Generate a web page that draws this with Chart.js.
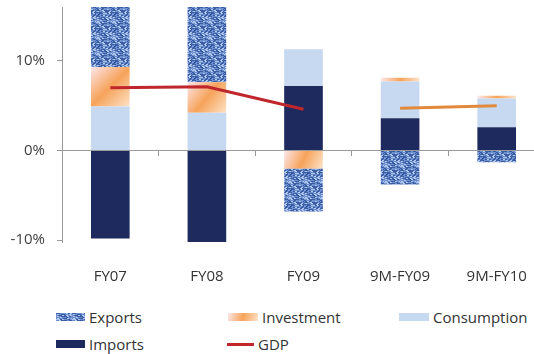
<!DOCTYPE html>
<html>
<head>
<meta charset="utf-8">
<script src="https://cdn.jsdelivr.net/npm/chart.js@4.4.1/dist/chart.umd.min.js"></script>
<style>
  html, body { margin: 0; padding: 0; background: #fff; overflow: hidden; width: 534px; height: 354px; }
  #wrap { position: relative; width: 534px; height: 354px; overflow: hidden; font-family: 'Open Sans', sans-serif; color: #333; }
  #chart { position: absolute; left: 0; top: 0; }
  .key { position: absolute; display: flex; align-items: center; height: 20px; font-size: 15px; white-space: nowrap; }
  .key canvas { display: block; margin-right: 4px; }
</style>
</head>
<body>
<div id="wrap">
  <canvas id="chart" width="545" height="282"></canvas>
  <div id="legend"></div>
</div>
<script>
// Contributions to GDP growth, percentage points
const categories = ['FY07', 'FY08', 'FY09', '9M-FY09', '9M-FY10'];
const imports = [-9.8, -10.2, 7.2, 3.6, 2.6];
const consumption = [4.9, 4.2, 4.1, 4.1, 3.2];
const investment = [4.4, 3.4, -2.0, 0.4, 0.3];
const exportsContrib = [7.5, 9.0, -4.8, -3.8, -1.3];
const gdpAnnual = [7.0, 7.1, 4.6, null, null];
const gdpNineMonth = [null, null, null, 4.7, 5.0];
const yTicks = [-10, 0, 10];

const AXIS = '#9a9a9a';
const FONT = { family: 'Open Sans', size: 15 };
const BAR_SHARE = 0.4;

// ---- Fills ----

// cheap integer hash so the texture is the same on every render
function cellHash(x, y) {
  let h = (x * 374761393 + y * 668265263) | 0;
  h = Math.imul(h ^ (h >>> 13), 1274126177);
  return ((h ^ (h >>> 16)) >>> 0) % 100;
}

// woven blue texture for the exports blocks
function makeTexture() {
  const size = 16;
  const tile = document.createElement('canvas');
  tile.width = tile.height = size;
  const g = tile.getContext('2d');
  g.fillStyle = '#6d8fcf';
  g.fillRect(0, 0, size, size);
  for (let y = 0; y < size; y++) {
    const shift = y % 2;
    for (let x = 0; x < size; x += 2) {
      const h = cellHash(x + shift, y);
      if (h < 34) g.fillStyle = '#3a5ca2';
      else if (h > 74) g.fillStyle = '#b1c8ee';
      else continue;
      g.fillRect((x + shift) % size, y, 2, 1);
    }
  }
  return g.createPattern(tile, 'repeat');
}
const exportsTexture = makeTexture();

function peachGradient(g, x0, y0, x1, y1) {
  const grad = g.createLinearGradient(x0, y0, x1, y1);
  grad.addColorStop(0, '#fde6ea');
  grad.addColorStop(0.5, '#f6a35a');
  grad.addColorStop(1, '#fde3c8');
  return grad;
}

// diagonal peach gradient laid over each investment block
function investmentFill(c) {
  const chart = c.chart;
  const xs = chart.scales.x, ys = chart.scales.y;
  if (c.type !== 'data' || !xs || !ys || !chart.chartArea) return '#f6a35a';
  const i = c.dataIndex;
  const v = investment[i];
  let base = 0;
  for (const arr of [imports, consumption]) {
    if (Math.sign(arr[i]) === Math.sign(v)) base += arr[i];
  }
  const half = xs.width / categories.length * BAR_SHARE / 2;
  const cx = xs.getPixelForValue(i);
  const top = ys.getPixelForValue(Math.max(base, base + v));
  const bottom = ys.getPixelForValue(Math.min(base, base + v));
  return peachGradient(chart.ctx, cx - half, top, cx + half, bottom);
}

// ---- Chart ----

new Chart(document.getElementById('chart'), {
  type: 'bar',
  data: {
    labels: categories,
    datasets: [
      { type: 'line', label: 'GDP', data: gdpAnnual, borderColor: '#c0272d', borderWidth: 3, pointRadius: 0, stack: 'gdp-a', order: 0 },
      { type: 'line', label: 'GDP 9M', data: gdpNineMonth, borderColor: '#e2893d', borderWidth: 3, pointRadius: 0, stack: 'gdp-b', order: 0 },
      { label: 'Imports', data: imports, backgroundColor: '#1e2a5e', order: 1 },
      { label: 'Consumption', data: consumption, backgroundColor: '#c6d9f1', order: 1 },
      { label: 'Investment', data: investment, backgroundColor: investmentFill, order: 1 },
      { label: 'Exports', data: exportsContrib, backgroundColor: exportsTexture, order: 1 },
    ],
  },
  options: {
    responsive: false,
    animation: false,
    layout: { padding: { top: 7, left: 0, right: 0, bottom: 0 } },
    datasets: {
      bar: { barPercentage: BAR_SHARE, categoryPercentage: 1, clip: 0 },
    },
    plugins: { legend: { display: false }, tooltip: { enabled: false } },
    scales: {
      // zero line with small tick marks between categories
      x: {
        stacked: true,
        position: { y: 0 },
        offset: true,
        grid: { offset: true, drawOnChartArea: false, drawTicks: true, tickLength: 5, color: AXIS },
        border: { color: AXIS },
        ticks: { display: false },
        afterFit: s => { s.height = 0; s.paddingLeft = 0; s.paddingRight = 0; },
      },
      // category labels along the bottom
      x2: {
        type: 'category',
        labels: categories,
        position: 'bottom',
        offset: true,
        grid: { display: false },
        border: { display: false },
        ticks: { padding: 18, color: '#333', font: FONT, maxRotation: 0 },
        afterFit: s => { s.height = 40; s.paddingLeft = 0; s.paddingRight = 0; },
      },
      y: {
        stacked: true,
        min: -10.2,
        max: 16,
        afterBuildTicks: s => { s.ticks = yTicks.map(v => ({ value: v })); },
        afterFit: s => { s.width = 62; s.paddingTop = 0; s.paddingBottom = 0; },
        grid: { drawOnChartArea: false, drawTicks: true, tickLength: 5, color: AXIS },
        border: { color: AXIS },
        ticks: { padding: 12, color: '#404040', font: FONT, callback: v => v + '%' },
      },
    },
  },
});

// ---- Legend ----

const legendItems = [
  { text: 'Exports', x: 56, y: 307, w: 29, h: 8, fill: () => exportsTexture },
  { text: 'Investment', x: 228, y: 307, w: 30, h: 8, fill: g => peachGradient(g, 0, 0, 30, 8) },
  { text: 'Consumption', x: 399, y: 307, w: 30, h: 8, fill: () => '#c6d9f1' },
  { text: 'Imports', x: 56, y: 334, w: 29, h: 8, fill: () => '#1e2a5e' },
  { text: 'GDP', x: 227, y: 334, w: 27, h: 3, fill: () => '#c0272d' },
];

const legend = document.getElementById('legend');
legendItems.forEach(item => {
  const row = document.createElement('div');
  row.className = 'key';
  row.style.left = item.x + 'px';
  row.style.top = item.y + 'px';
  const sw = document.createElement('canvas');
  sw.width = item.w;
  sw.height = item.h;
  const g = sw.getContext('2d');
  g.fillStyle = item.fill(g);
  g.fillRect(0, 0, item.w, item.h);
  row.appendChild(sw);
  const label = document.createElement('span');
  label.textContent = item.text;
  row.appendChild(label);
  legend.appendChild(row);
});
</script>
</body>
</html>
